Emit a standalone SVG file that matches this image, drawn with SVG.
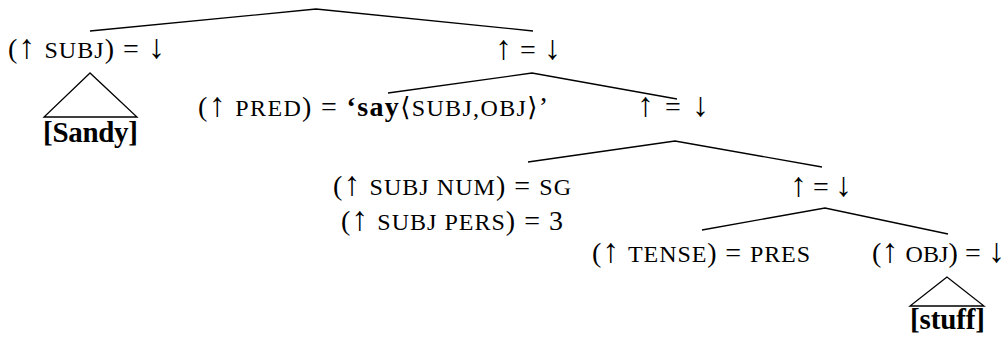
<svg xmlns="http://www.w3.org/2000/svg" width="1007" height="338" viewBox="0 0 1007 338">
<style>
text{font-family:"Liberation Serif","Times New Roman",serif;font-size:28px;fill:#000}
.sc{font-size:24px}
.ar{font-size:34px}
.b{font-weight:bold;font-size:29px}
.ang{font-family:"DejaVu Sans",sans-serif;font-size:26px;font-weight:normal}
.edge{fill:none;stroke:#000;stroke-width:1.3}
</style>
<rect width="1007" height="338" fill="#fff"/>
<g id="connectors">
<polyline class="edge" points="90,31 316,9 533,31"/>
<polyline class="edge" points="388,93 532,73 677,99"/>
<polyline class="edge" points="528,162 675,141 822,167"/>
<polyline class="edge" points="702,230 825,208 948,234"/>
<polygon class="edge" points="90,73 44,117 137,117"/>
<polygon class="edge" points="947,277 910,306 984,306"/>
</g>
<g id="n-subj"><text x="8" y="58" textLength="157" lengthAdjust="spacing">(<tspan class="ar">↑</tspan> <tspan class="sc">SUBJ</tspan>) = <tspan class="ar">↓</tspan></text></g>
<g id="n-sandy"><text class="b" x="43" y="142" textLength="95" lengthAdjust="spacing">[Sandy]</text></g>
<g id="n-vp1"><text x="495" y="59" textLength="66" lengthAdjust="spacing"><tspan class="ar">↑</tspan> = <tspan class="ar">↓</tspan></text></g>
<g id="n-pred"><text x="198" y="116" textLength="350" lengthAdjust="spacing">(<tspan class="ar">↑</tspan> <tspan class="sc">PRED</tspan>) = <tspan font-weight="bold">‘say</tspan><tspan class="ang">⟨</tspan><tspan class="sc">SUBJ,OBJ</tspan><tspan class="ang">⟩</tspan>’</text></g>
<g id="n-vp2"><text x="637" y="116" textLength="72" lengthAdjust="spacing"><tspan class="ar">↑</tspan> = <tspan class="ar">↓</tspan></text></g>
<g id="n-agr"><text x="333" y="195" textLength="238" lengthAdjust="spacing">(<tspan class="ar">↑</tspan> <tspan class="sc">SUBJ NUM</tspan>) = <tspan class="sc">SG</tspan></text>
<text x="341" y="230" textLength="222" lengthAdjust="spacing">(<tspan class="ar">↑</tspan> <tspan class="sc">SUBJ PERS</tspan>) = 3</text></g>
<g id="n-vp3"><text x="790" y="196" textLength="62" lengthAdjust="spacing"><tspan class="ar">↑</tspan> = <tspan class="ar">↓</tspan></text></g>
<g id="n-tense"><text x="592" y="262" textLength="218" lengthAdjust="spacing">(<tspan class="ar">↑</tspan> <tspan class="sc">TENSE</tspan>) = <tspan class="sc">PRES</tspan></text></g>
<g id="n-obj"><text x="872" y="262" textLength="133" lengthAdjust="spacing">(<tspan class="ar">↑</tspan> <tspan class="sc">OBJ</tspan>) = <tspan class="ar">↓</tspan></text></g>
<g id="n-stuff"><text class="b" x="910" y="329" textLength="75" lengthAdjust="spacing">[stuff]</text></g>
</svg>
